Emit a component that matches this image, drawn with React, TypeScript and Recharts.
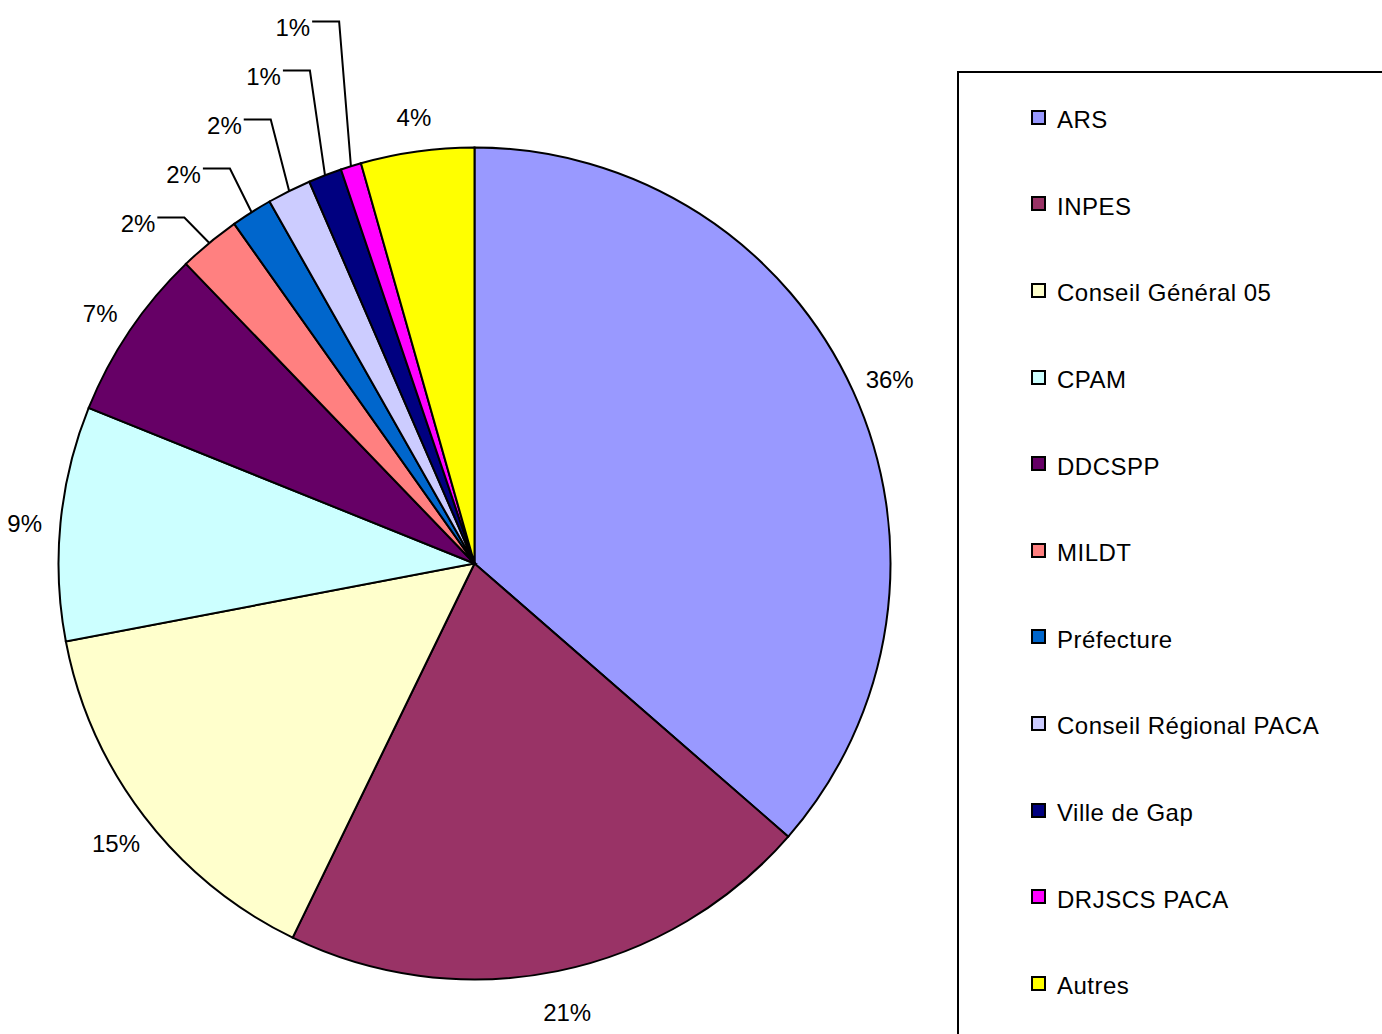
import React from 'react';
import { PieChart, Pie, Cell, Legend } from 'recharts';

const NAMES = [
  'ARS',
  'INPES',
  'Conseil Général 05',
  'CPAM',
  'DDCSPP',
  'MILDT',
  'Préfecture',
  'Conseil Régional PACA',
  'Ville de Gap',
  'DRJSCS PACA',
  'Autres',
];
const VALUES = [36.4, 20.8, 14.8, 9.1, 6.7, 2.4, 1.6, 1.7, 1.3, 0.8, 4.4];
const COLORS = [
  '#9999FF', '#993366', '#FFFFCC', '#CCFFFF', '#660066', '#FF8080',
  '#0066CC', '#CCCCFF', '#000080', '#FF00FF', '#FFFF00',
];

const data = NAMES.map((name, i) => ({ name, value: VALUES[i] }));
const total = VALUES.reduce((a, b) => a + b, 0);
const isSmall = (v: number) => v / total < 0.03;

const FONT = '"Liberation Sans", Arial, Helvetica, sans-serif';
const RADIAN = Math.PI / 180;

const renderLabel = (props: any) => {
  const { cx, cy, midAngle, outerRadius, percent, index } = props;
  const text = `${Math.round(percent * 100)}%`;
  const cos = Math.cos(-midAngle * RADIAN);
  const sin = Math.sin(-midAngle * RADIAN);

  if (!isSmall(VALUES[index])) {
    const r = outerRadius + 38;
    return (
      <text x={cx + r * cos + 2} y={cy + r * sin + 4} fill="#000" fontFamily={FONT} fontSize={24}
        textAnchor="middle" dominantBaseline="central">
        {text}
      </text>
    );
  }

  // stacked labels with elbow leader lines for the thin slices
  const k = VALUES.slice(0, index).filter(isSmall).length;
  const ex = cx + outerRadius * cos;
  const ey = cy + outerRadius * sin;
  const bx = ex - (25 - 3.3 * k);
  const by = cy - outerRadius + 70 - 49 * k;
  const hx = bx - 27;
  return (
    <g>
      <path d={`M${ex},${ey}L${bx},${by}L${hx},${by}`} stroke="#000" strokeWidth={2} fill="none" />
      <text x={hx - 2} y={by + 6} fill="#000" fontFamily={FONT} fontSize={24}
        textAnchor="end" dominantBaseline="central">
        {text}
      </text>
    </g>
  );
};

const renderLegend = () => (
  <div style={{
    width: 460, height: 1000, border: '2px solid #000', boxSizing: 'border-box',
    paddingTop: 4, paddingLeft: 72, fontFamily: FONT, fontSize: 24, color: '#000', background: '#fff',
  }}>
    {data.map((d, i) => (
      <div key={d.name} style={{ height: 86.6, display: 'flex', alignItems: 'center' }}>
        <span style={{
          display: 'inline-block', width: 15, height: 15, boxSizing: 'border-box',
          border: '2px solid #000', background: COLORS[i], marginRight: 11, marginTop: -6,
        }} />
        <span style={{ letterSpacing: 0.5 }}>{d.name}</span>
      </div>
    ))}
  </div>
);

export default function App() {
  return (
    <div style={{ position: 'absolute', left: 0, top: 0, width: 1382, height: 1034, overflow: 'hidden', background: '#fff' }}>
      <PieChart width={1382} height={1034} margin={{ top: 0, right: 0, bottom: 0, left: 0 }}>
        <Pie
          data={data}
          dataKey="value"
          nameKey="name"
          cx={474.5}
          cy={563.5}
          outerRadius={416}
          startAngle={90}
          endAngle={-270}
          stroke="#000"
          strokeWidth={2}
          label={renderLabel}
          labelLine={false}
          isAnimationActive={false}
        >
          {data.map((entry, index) => (
            <Cell key={`cell-${index}`} fill={COLORS[index]} />
          ))}
        </Pie>
        <Legend
          layout="vertical"
          align="right"
          verticalAlign="top"
          content={renderLegend}
          wrapperStyle={{ left: 957, top: 71, width: 460, height: 1000 }}
        />
      </PieChart>
    </div>
  );
}
